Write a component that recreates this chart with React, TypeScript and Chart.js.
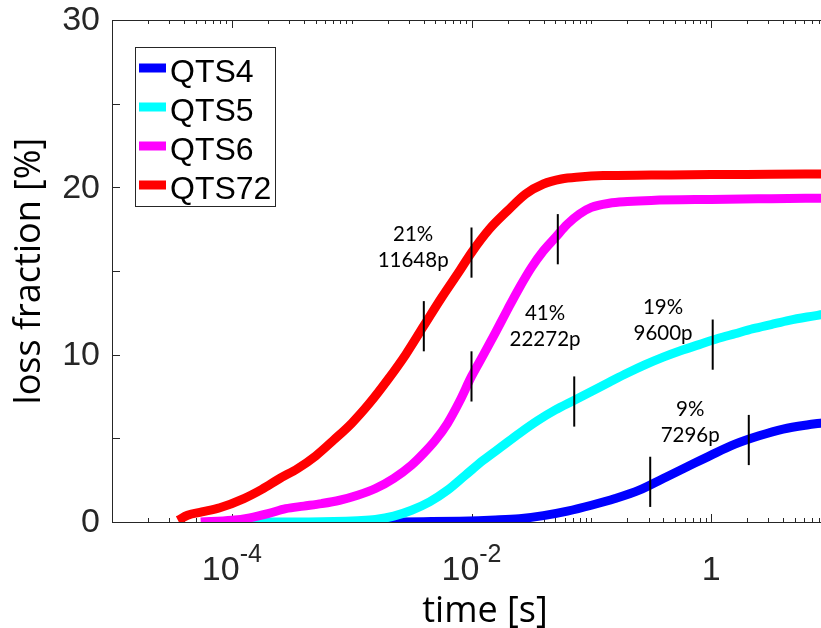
import React, { useEffect, useRef } from "react";
import { Chart, registerables } from "chart.js";

Chart.register(...registerables);

// ---------- data ----------
const seriesLabels = ["QTS4", "QTS5", "QTS6", "QTS72"];
const seriesColors = ["#0000FF", "#00FFFF", "#FF00FF", "#FF0000"];

const qts4Time = [2.0e-3, 3.98e-3, 7.94e-3, 0.0158, 0.0251, 0.0398, 0.0631, 0.1, 0.158, 0.251, 0.398, 0.631, 1, 1.58, 2.51, 3.98, 6.31, 8.51];
const qts4Loss = [0.0, 0.02, 0.05, 0.12, 0.2, 0.38, 0.65, 1.0, 1.4, 1.9, 2.6, 3.3, 4.0, 4.65, 5.15, 5.55, 5.8, 5.92];

const qts5Time = [6.31e-5, 2.51e-4, 7.08e-4, 1.12e-3, 1.58e-3, 2.24e-3, 3.16e-3, 4.47e-3, 6.31e-3, 8.91e-3, 0.0126, 0.0178, 0.0251, 0.0355, 0.0501, 0.0708, 0.1, 0.141, 0.2, 0.282, 0.398, 0.562, 0.794, 1.12, 1.58, 2.24, 3.16, 4.47, 6.31, 8.51];
const qts5Loss = [0.0, 0.0, 0.03, 0.08, 0.15, 0.35, 0.7, 1.2, 1.9, 2.8, 3.7, 4.5, 5.3, 6.05, 6.7, 7.25, 7.8, 8.35, 8.9, 9.4, 9.85, 10.25, 10.6, 10.95, 11.25, 11.55, 11.8, 12.05, 12.25, 12.4];

const qts6Time = [5.5e-5, 1e-4, 1.41e-4, 2.0e-4, 2.82e-4, 3.98e-4, 5.62e-4, 7.94e-4, 1.12e-3, 1.58e-3, 2.24e-3, 3.16e-3, 3.98e-3, 5.01e-3, 6.31e-3, 7.94e-3, 0.01, 0.0126, 0.0158, 0.02, 0.0251, 0.0316, 0.0398, 0.0501, 0.0631, 0.0794, 0.1, 0.141, 0.2, 0.316, 1, 3.16, 8.51];
const qts6Loss = [0.0, 0.1, 0.25, 0.5, 0.8, 0.95, 1.1, 1.3, 1.6, 2.0, 2.6, 3.4, 4.1, 4.9, 5.9, 7.2, 8.7, 10.0, 11.3, 12.7, 14.0, 15.2, 16.2, 17.0, 17.8, 18.4, 18.8, 19.05, 19.15, 19.22, 19.28, 19.32, 19.35];

const qts72Time = [3.55e-5, 4.27e-5, 5.62e-5, 7.94e-5, 1.26e-4, 1.78e-4, 2.51e-4, 3.55e-4, 5.01e-4, 7.08e-4, 1e-3, 1.41e-3, 2.0e-3, 2.82e-3, 3.98e-3, 5.62e-3, 7.94e-3, 0.01, 0.0141, 0.02, 0.0282, 0.0398, 0.0562, 0.0794, 0.126, 0.316, 1, 3.16, 8.51];
const qts72Loss = [0.1, 0.4, 0.6, 0.85, 1.4, 1.95, 2.6, 3.2, 3.95, 4.9, 5.9, 7.1, 8.5, 10.0, 11.7, 13.4, 15.0, 16.1, 17.5, 18.6, 19.6, 20.2, 20.5, 20.62, 20.7, 20.73, 20.76, 20.78, 20.8];

const seriesTimes = [qts4Time, qts5Time, qts6Time, qts72Time];
const seriesLoss = [qts4Loss, qts5Loss, qts6Loss, qts72Loss];

// vertical markers on curves (time, centre loss)
const markerTime = [0.004, 0.01, 0.01, 0.0525, 0.072, 1.03, 0.31, 2.06];
const markerLoss = [11.7, 16.1, 8.7, 16.9, 7.2, 10.6, 2.4, 4.9];

// annotations
const annotationLines = [["21%", "11648p"], ["41%", "22272p"], ["19%", "9600p"], ["9%", "7296p"]];
const annotationTime = [0.00326, 0.0411, 0.397, 0.668];
const annotationLoss = [16.43, 11.68, 12.07, 5.95];

// axes
const xMin = 1e-5;
const xMax = 10;
const yMin = 0;
const yMax = 30;
const yStep = 5;
const yLabelStep = 10;
const xMajorTicks = [1e-4, 1e-2, 1];
const xTickBase = ["10", "10", "1"];
const xTickExp = ["-4", "-2", ""];
const xTitle = "time [s]";
const yTitle = "loss fraction [%]";

const MARKER_HALF = 1.5;
const AXIS_COLOR = "#262626";
const TICK_FONT = "'Liberation Sans', Arial, sans-serif";

const overlayPlugin = {
  id: "overlay",
  beforeDatasetsDraw(chart: any) {
    const ctx = chart.ctx;
    const { left, right, top, bottom } = chart.chartArea;
    const xs = chart.scales.x;
    const ys = chart.scales.y;
    ctx.save();
    ctx.strokeStyle = AXIS_COLOR;
    ctx.lineWidth = 1;
    ctx.beginPath();
    ctx.moveTo(left, top + 0.5);
    ctx.lineTo(right, top + 0.5);
    ctx.moveTo(right - 0.5, top);
    ctx.lineTo(right - 0.5, bottom);
    ctx.stroke();
    ctx.beginPath();
    for (let e = -5; e <= 1; e++) {
      for (let k = 1; k <= 9; k++) {
        const v = k * Math.pow(10, e);
        if (v < xMin * 0.999 || v > xMax * 1.001) continue;
        const px = Math.round(xs.getPixelForValue(v)) + 0.5;
        const major = xMajorTicks.some((m) => Math.abs(m - v) / m < 1e-6);
        const len = major ? 8 : 4;
        ctx.moveTo(px, bottom);
        ctx.lineTo(px, bottom - len);
        ctx.moveTo(px, top);
        ctx.lineTo(px, top + len);
      }
    }
    for (let v = yMin; v <= yMax; v += yStep) {
      const py = Math.round(ys.getPixelForValue(v)) + 0.5;
      ctx.moveTo(left, py);
      ctx.lineTo(left + 8, py);
      ctx.moveTo(right, py);
      ctx.lineTo(right - 8, py);
    }
    ctx.stroke();
    ctx.restore();
  },
  afterDraw(chart: any) {
    const ctx = chart.ctx;
    const { left, top, bottom } = chart.chartArea;
    const xs = chart.scales.x;
    const ys = chart.scales.y;
    ctx.save();
    // y tick labels
    ctx.fillStyle = AXIS_COLOR;
    ctx.font = "34px " + TICK_FONT;
    ctx.textAlign = "right";
    ctx.textBaseline = "middle";
    for (let v = yMin; v <= yMax; v += yLabelStep) {
      ctx.fillText(String(v), left - 12, ys.getPixelForValue(v) + 1);
    }
    // x tick labels with superscripts
    ctx.textBaseline = "alphabetic";
    ctx.textAlign = "left";
    xMajorTicks.forEach((v, i) => {
      const baseFont = "34px " + TICK_FONT;
      const expFont = "25px " + TICK_FONT;
      ctx.font = baseFont;
      const wb = ctx.measureText(xTickBase[i]).width;
      ctx.font = expFont;
      const we = xTickExp[i] ? ctx.measureText(xTickExp[i]).width : 0;
      const px = xs.getPixelForValue(v);
      const x0 = px - (wb + we) / 2;
      ctx.font = baseFont;
      ctx.fillText(xTickBase[i], x0, bottom + 58);
      if (xTickExp[i]) {
        ctx.font = expFont;
        ctx.fillText(xTickExp[i], x0 + wb, bottom + 40);
      }
    });
    // axis titles
    ctx.fillStyle = "#000";
    ctx.font = "36px 'Open Sans', sans-serif";
    ctx.textAlign = "center";
    ctx.fillText(xTitle, 485, bottom + 100);
    ctx.save();
    ctx.translate(40, (top + bottom) / 2);
    ctx.rotate(-Math.PI / 2);
    ctx.fillText(yTitle, 0, 0);
    ctx.restore();
    // annotations
    ctx.font = "20.5px Lato, 'Open Sans', sans-serif";
    ctx.textBaseline = "middle";
    ctx.textAlign = "center";
    ctx.fillStyle = "#000";
    annotationLines.forEach((lines, i) => {
      const px = xs.getPixelForValue(annotationTime[i]);
      const py = ys.getPixelForValue(annotationLoss[i]);
      ctx.fillText(lines[0], px, py - 13);
      ctx.fillText(lines[1], px, py + 13);
    });
    // legend
    const bx = left + 23;
    const by = top + 27;
    const bw = 140;
    const bh = 159;
    ctx.fillStyle = "#fff";
    ctx.fillRect(bx, by, bw, bh);
    ctx.strokeStyle = AXIS_COLOR;
    ctx.lineWidth = 1;
    ctx.strokeRect(bx + 0.5, by + 0.5, bw, bh);
    ctx.font = "32px " + TICK_FONT;
    ctx.textAlign = "left";
    ctx.textBaseline = "alphabetic";
    seriesLabels.forEach((lab, i) => {
      const ly = by + 21 + i * 39;
      ctx.strokeStyle = seriesColors[i];
      ctx.lineWidth = 9;
      ctx.beginPath();
      ctx.moveTo(bx + 4, ly);
      ctx.lineTo(bx + 31, ly);
      ctx.stroke();
      ctx.fillStyle = "#000";
      ctx.fillText(lab, bx + 35, ly + 14);
    });
    ctx.restore();
  },
};

export default function App() {
  const ref = useRef<HTMLCanvasElement | null>(null);
  useEffect(() => {
    document.body.style.overflow = "hidden";
    const canvas = ref.current;
    if (!canvas) return;
    const datasets: any[] = seriesLabels.map((lab, i) => ({
      label: lab,
      data: seriesTimes[i].map((t, j) => ({ x: t, y: seriesLoss[i][j] })),
      borderColor: seriesColors[i],
      backgroundColor: seriesColors[i],
      borderWidth: 9,
      pointRadius: 0,
      cubicInterpolationMode: "monotone",
      borderJoinStyle: "round",
      fill: false,
      order: 10 - i,
    }));
    markerTime.forEach((t, i) => {
      datasets.push({
        label: "marker" + i,
        data: [
          { x: t, y: markerLoss[i] - MARKER_HALF },
          { x: t, y: markerLoss[i] + MARKER_HALF },
        ],
        borderColor: "#000",
        borderWidth: 2,
        pointRadius: 0,
        fill: false,
        order: 0,
      });
    });
    const chart = new Chart(canvas, {
      type: "line",
      data: { datasets },
      options: {
        animation: false,
        responsive: false,
        maintainAspectRatio: false,
        devicePixelRatio: 1,
        layout: { padding: { top: 20, left: 0, right: 0, bottom: 0 } },
        plugins: { legend: { display: false }, tooltip: { enabled: false } },
        scales: {
          x: {
            type: "logarithmic",
            min: xMin,
            max: xMax,
            afterFit: (s: any) => {
              s.height = 106;
            },
            ticks: { display: false },
            grid: { display: true, drawOnChartArea: false, drawTicks: false },
            border: { display: true, color: AXIS_COLOR, width: 1 },
          },
          y: {
            type: "linear",
            min: yMin,
            max: yMax,
            afterFit: (s: any) => {
              s.width = 112;
            },
            ticks: { display: false, stepSize: yStep },
            grid: { display: true, drawOnChartArea: false, drawTicks: false },
            border: { display: true, color: AXIS_COLOR, width: 1 },
          },
        },
      } as any,
      plugins: [overlayPlugin],
    });
    return () => chart.destroy();
  }, []);
  return (
    <div style={{ position: "fixed", left: 0, top: 0, width: 831, height: 628, background: "#fff" }}>
      <canvas ref={ref} width={831} height={628} style={{ width: 831, height: 628, display: "block" }} />
    </div>
  );
}
